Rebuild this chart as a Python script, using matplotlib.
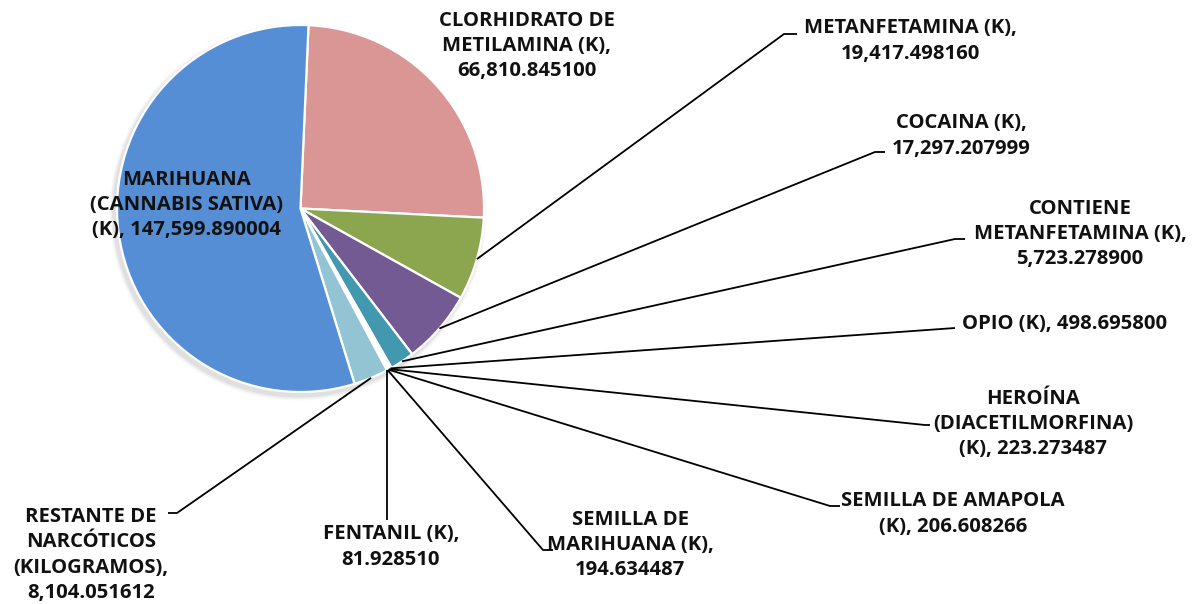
import matplotlib
matplotlib.use("Agg")
import matplotlib.pyplot as plt
import numpy as np

# ---- data (clockwise order as drawn) ----
categories = [
    "CLORHIDRATO DE METILAMINA (K)",
    "METANFETAMINA (K)",
    "COCAINA (K)",
    "CONTIENE METANFETAMINA (K)",
    "OPIO (K)",
    "HEROÍNA (DIACETILMORFINA) (K)",
    "SEMILLA DE AMAPOLA (K)",
    "SEMILLA DE MARIHUANA (K)",
    "FENTANIL (K)",
    "RESTANTE DE NARCÓTICOS (KILOGRAMOS)",
    "MARIHUANA (CANNABIS SATIVA) (K)",
]
values = [66810.845100, 19417.498160, 17297.207999, 5723.278900, 498.695800,
          223.273487, 206.608266, 194.634487, 81.928510, 8104.051612,
          147599.890004]
label_templates = [
    "CLORHIDRATO DE\nMETILAMINA (K),\n{v}",
    "METANFETAMINA (K),\n{v}",
    "COCAINA (K),\n{v}",
    "CONTIENE\nMETANFETAMINA (K),\n{v}",
    "OPIO (K), {v}",
    "HEROÍNA\n(DIACETILMORFINA)\n(K), {v}",
    "SEMILLA DE AMAPOLA\n(K), {v}",
    "SEMILLA DE\nMARIHUANA (K),\n{v}",
    "FENTANIL (K),\n{v}",
    "RESTANTE DE\nNARCÓTICOS\n(KILOGRAMOS),\n{v}",
    "MARIHUANA\n(CANNABIS SATIVA)\n(K), {v}",
]
colors = ["#D99694", "#8BA64E", "#735A92", "#4198AF", "#F4F4F4", "#F2F2F2",
          "#F6F6F6", "#F0F0F0", "#F7F7F7", "#93C4D4", "#558ED5"]

W, H = 1202, 604
fig = plt.figure(figsize=(W / 100, H / 100), dpi=100)
ax = fig.add_axes([0, 0, 1, 1])
ax.set_xlim(0, W)
ax.set_ylim(0, H)
ax.axis("off")

def py(y):  # pixel-from-top -> data y
    return H - y

cx, cy, R = 300.5, py(208.5), 183.5

# soft shadow
for dr, a in [(5, 0.05), (3.5, 0.08), (2, 0.12)]:
    ax.add_patch(plt.Circle((cx - 2.5, cy - 3.5), R + dr, color="#808080",
                            alpha=a, lw=0, zorder=0))

wedges, _ = ax.pie(values, colors=colors, startangle=87.5, counterclock=False,
                   center=(cx, cy), radius=R, frame=False,
                   wedgeprops=dict(edgecolor="white", linewidth=1.6))
ax.set_xlim(0, W)
ax.set_ylim(0, H)
ax.set_aspect("equal")

font = dict(family=["Open Sans", "DejaVu Sans"], fontweight="bold", fontsize=14.6,
            color="#111111")

# label positions (centre of text block, px) and leader elbows (kink x, kink y, end x)
label_pos = [(527, 46), (910, 41), (961, 136), (1080, 234), (1065, 324),
             (1033, 424), (953, 514), (630, 545), (391, 547), (91, 555),
             (186, 205)]
elbows = [None, (784, 34, 797), (875, 152, 885), (955, 239, 965),
          (None, 328, 955), (925, 425, 930), (830, 506, 840),
          (543, 550, 553), ("v", 520, None), (177, 513, 168), None]

for i, (w, v) in enumerate(zip(wedges, values)):
    txt = label_templates[i].format(v=f"{v:,.6f}")
    lx, ly = label_pos[i]
    ax.text(lx, py(ly), txt, ha="center", va="center", multialignment="center",
            linespacing=1.36, **font)
    e = elbows[i]
    if e is None:
        continue
    ang = np.deg2rad((w.theta1 + w.theta2) / 2)
    sx, sy = cx + R * np.cos(ang), cy + R * np.sin(ang)
    if e[0] == "v":
        xs, ys = [sx, sx], [sy, py(e[1])]
    elif e[0] is None:
        xs, ys = [sx, e[2]], [sy, py(e[1])]
    else:
        xs, ys = [sx, e[0], e[2]], [sy, py(e[1]), py(e[1])]
    ax.plot(xs, ys, color="black", lw=1.3, solid_capstyle="butt", zorder=5)

fig.savefig("out.png", dpi=100, facecolor="white")
